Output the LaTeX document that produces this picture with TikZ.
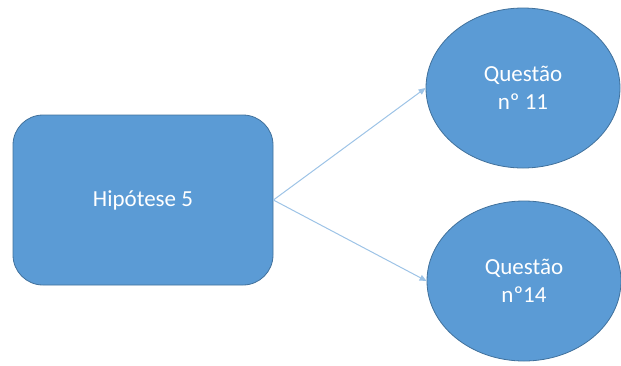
\documentclass[tikz,border=0pt]{standalone}
\usepackage{fontspec}
\setmainfont{Carlito}
\usetikzlibrary{shapes.geometric,arrows.meta}
\definecolor{boxfill}{HTML}{5B9BD5}
\definecolor{boxline}{HTML}{41719C}
\definecolor{linkcol}{HTML}{9DC3E6}
\tikzset{
  hypbox/.style={draw=boxline, fill=boxfill, rounded corners=30pt, line width=0.8pt,
    minimum width=260pt, minimum height=170pt, inner sep=0pt, text=white,
    font=\fontsize{23}{28}\selectfont},
  qellipse/.style={ellipse, draw=boxline, fill=boxfill, line width=0.8pt,
    minimum width=194pt, minimum height=160pt, inner sep=0pt, text=white,
    align=center, font=\fontsize{23}{28}\selectfont},
  link/.style={draw=linkcol, line width=1pt, -{Triangle[length=7pt,width=6pt]}}
}
\begin{document}
\begin{tikzpicture}[x=1pt,y=-1pt]
  \useasboundingbox (0,0) rectangle (621,365);
  \node[hypbox] (h) at (143,200) {Hipótese 5};
  \node[qellipse] (q1) at (523,88) {Questão\\nº 11};
  \node[qellipse] (q2) at (524,281) {Questão\\nº14};
  \draw[link] (h.east) -- (q1.west);
  \draw[link] (h.east) -- (q2.west);
\end{tikzpicture}
\end{document}
